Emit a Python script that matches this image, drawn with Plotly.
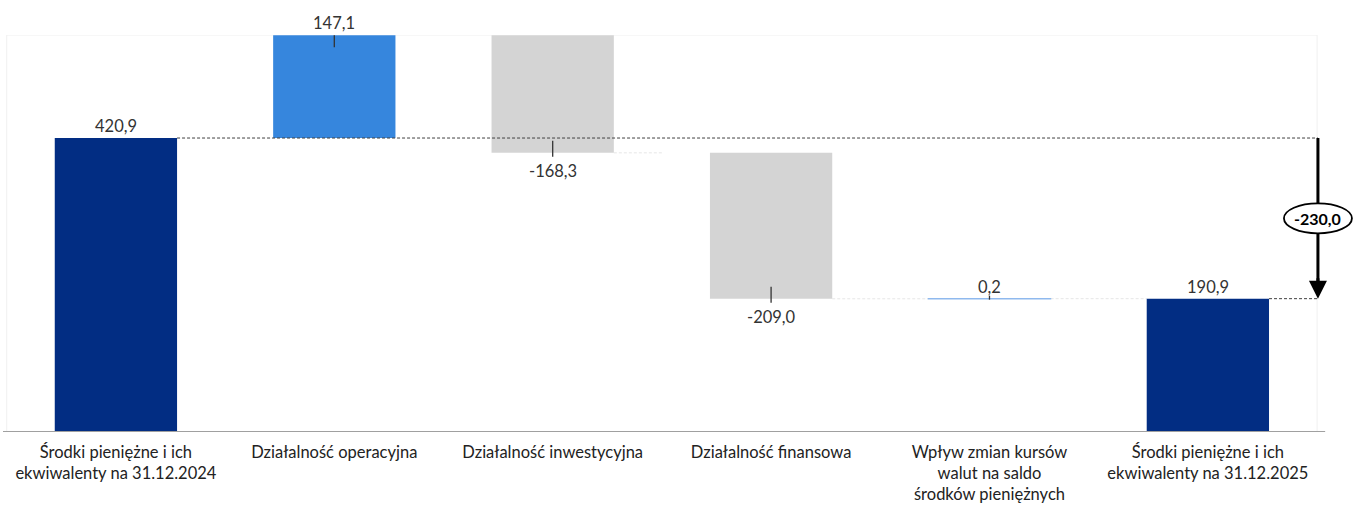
import plotly.graph_objects as go

categories = [
    "Środki pieniężne i ich<br>ekwiwalenty na 31.12.2024",
    "Działalność operacyjna",
    "Działalność inwestycyjna",
    "Działalność finansowa",
    "Wpływ zmian kursów<br>walut na saldo<br>środków pieniężnych",
    "Środki pieniężne i ich<br>ekwiwalenty na 31.12.2025",
]
values = [420.9, 147.1, -168.3, -209.0, 0.2, 190.9]
kinds = ["total", "delta", "delta", "delta", "delta", "total"]
labels = ["420,9", "147,1", "-168,3", "-209,0", "0,2", "190,9"]
change_label = "-230,0"

NAVY = "#022D83"
BLUE = "#3686DD"
GRAY = "#D4D4D4"
LIGHT = "#8FB9EE"
FONT = "Lato"

# compute bases
bases, heights, ends, colors = [], [], [], []
running = 0.0
for v, k in zip(values, kinds):
    if k == "total":
        running = v
        bases.append(0.0)
        heights.append(v)
        ends.append(v)
        colors.append(NAVY)
    else:
        start = running
        running = running + v
        bases.append(min(start, running))
        heights.append(abs(v))
        ends.append(running)
        if abs(v) < 1:
            colors.append(LIGHT)
        elif v > 0:
            colors.append(BLUE)
        else:
            colors.append(GRAY)

x = list(range(len(categories)))
BW = 0.56

fig = go.Figure()
fig.add_trace(go.Bar(
    x=x, y=heights, base=bases, width=BW,
    marker=dict(color=colors, line=dict(color=colors, width=[0, 0, 0, 0, 1.2, 0])),
    hoverinfo="skip", showlegend=False,
))

shapes = []
annotations = []

# faint plot border
shapes.append(dict(type="rect", xref="x", yref="y", x0=-0.5, x1=5.5, y0=0, y1=568.4,
                   line=dict(color="#F0F0F0", width=1), layer="below"))

# faint connectors
shapes.append(dict(type="line", xref="x", yref="y", x0=2 + BW / 2, x1=2.5,
                   y0=ends[2], y1=ends[2], line=dict(color="#E6E6E6", width=1, dash="3px,2px"),
                   layer="below"))
shapes.append(dict(type="line", xref="x", yref="y", x0=3 + BW / 2, x1=4 - BW / 2,
                   y0=ends[3], y1=ends[3], line=dict(color="#E6E6E6", width=1, dash="3px,2px"),
                   layer="below"))
shapes.append(dict(type="line", xref="x", yref="y", x0=4 + BW / 2, x1=5 - BW / 2,
                   y0=ends[4], y1=ends[4], line=dict(color="#E6E6E6", width=1, dash="3px,2px"),
                   layer="below"))

ARROW_X = 5.504
start_val = values[0]
end_val = values[-1]

# dashed reference lines
shapes.append(dict(type="line", xref="x", yref="y", x0=BW / 2, x1=ARROW_X, y0=start_val, y1=start_val,
                   line=dict(color="#404040", width=1, dash="3px,2px"), layer="above"))
shapes.append(dict(type="line", xref="x", yref="y", x0=5 + BW / 2, x1=ARROW_X, y0=end_val, y1=end_val,
                   line=dict(color="#404040", width=1, dash="3px,2px"), layer="above"))

# baseline axis line
shapes.append(dict(type="line", xref="x", yref="y", x0=-0.517, x1=5.537, y0=0, y1=0,
                   line=dict(color="#A0A0A0", width=2), layer="above"))

# tick marks at delta bar ends
for i, (v, k) in enumerate(zip(values, kinds)):
    if k != "delta":
        continue
    if abs(v) < 1:
        y0, y1 = -1, 3
    elif v > 0:
        y0, y1 = -12, 0
    else:
        y0, y1 = -4, 12
    shapes.append(dict(type="line", xref="x", yref="y", xsizemode="scaled", ysizemode="pixel",
                       yanchor=ends[i], x0=i, x1=i, y0=y0, y1=y1,
                       line=dict(color="#333333", width=1.3), layer="above"))

# arrow line
shapes.append(dict(type="line", xref="x", yref="y", x0=ARROW_X, x1=ARROW_X, y0=start_val,
                   y1=end_val + 20, line=dict(color="black", width=3), layer="above"))
# ellipse
mid = (start_val + end_val) / 2
shapes.append(dict(type="circle", xref="x", yref="y", xsizemode="pixel", ysizemode="pixel",
                   xanchor=ARROW_X, yanchor=mid, x0=-34, x1=34, y0=-15, y1=15,
                   fillcolor="white", line=dict(color="black", width=1.8), layer="above"))

annotations.append(dict(x=ARROW_X, y=end_val, xref="x", yref="y", ax=0, ay=-22, text="",
                        showarrow=True, arrowhead=2, arrowsize=1.2, arrowwidth=3, arrowcolor="black"))
annotations.append(dict(x=ARROW_X, y=mid, xref="x", yref="y", text="<b>" + change_label + "</b>",
                        showarrow=False, font=dict(family=FONT, size=16, color="black")))

# value labels
for i, (v, k) in enumerate(zip(values, kinds)):
    if k == "total" or v > 0:
        yv = bases[i] + heights[i]
        annotations.append(dict(x=i, y=yv, xref="x", yref="y", text=labels[i], showarrow=False,
                                yanchor="bottom", yshift=0,
                                font=dict(family=FONT, size=16.5, color="#333333")))
    else:
        yv = bases[i]
        annotations.append(dict(x=i, y=yv, xref="x", yref="y", text=labels[i], showarrow=False,
                                yanchor="top", yshift=-6,
                                font=dict(family=FONT, size=16.5, color="#333333")))

fig.update_layout(
    width=1359, height=505,
    margin=dict(l=3, r=0, t=35, b=73),
    plot_bgcolor="white", paper_bgcolor="white",
    xaxis=dict(range=[-0.517, 5.692], tickmode="array", tickvals=x, ticktext=categories,
               showgrid=False, showline=False, zeroline=False, ticks="",
               ticklabelstandoff=8,
               tickfont=dict(family=FONT, size=16.5, color="#222222")),
    yaxis=dict(range=[0, 568.4], visible=False, showgrid=False, zeroline=False),
    shapes=shapes, annotations=annotations,
    font=dict(family=FONT),
)

fig.write_html("out.html")
